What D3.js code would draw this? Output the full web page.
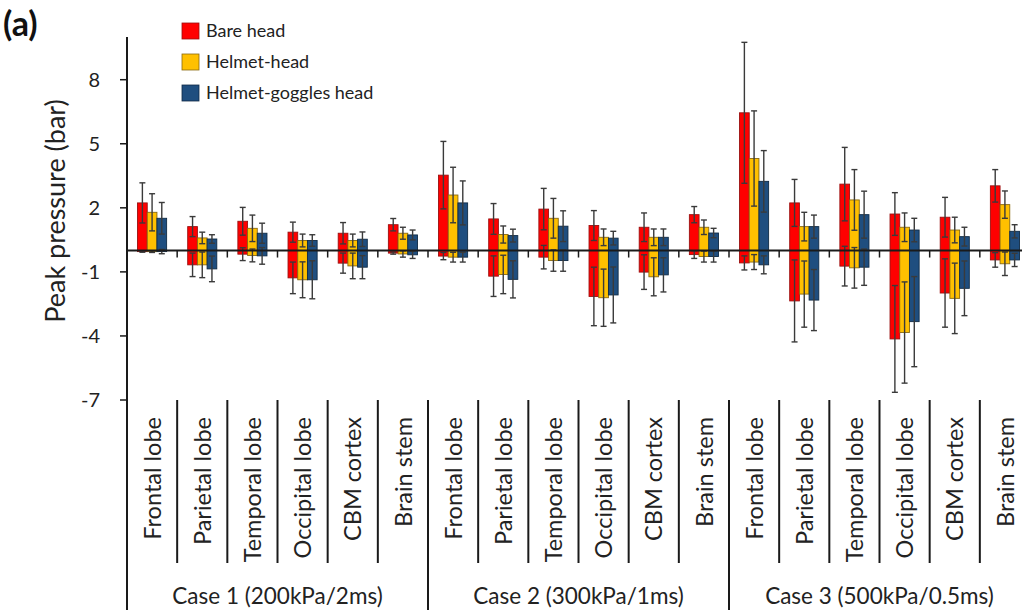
<!DOCTYPE html>
<html>
<head>
<meta charset="utf-8">
<script src="https://cdn.jsdelivr.net/npm/d3@7"></script>
<style>
  html, body { margin: 0; padding: 0; background: #fff; }
  svg { display: block; }
  text { font-family: Lato, "Noto Sans", sans-serif; fill: #222; }
</style>
</head>
<body>
<svg id="chart" width="1022" height="614"></svg>
<script>
// Brain regions, repeated for each loading case
const regions = ["Frontal lobe", "Parietal lobe", "Temporal lobe", "Occipital lobe", "CBM cortex", "Brain stem"];
const cases = ["Case 1 (200kPa/2ms)", "Case 2 (300kPa/1ms)", "Case 3 (500kPa/0.5ms)"];
const seriesNames = ["Bare head", "Helmet-head", "Helmet-goggles head"];
const seriesColors = ["#ff0000", "#ffc000", "#1f4e7f"];
const seriesStrokes = ["#9a1010", "#8a6a10", "#0f2a45"];
const yTicks = [8, 5, 2, -1, -4, -7];

// Peak positive / negative pressure (bar) and their standard deviations,
// 18 values each: Case 1 regions, then Case 2, then Case 3
const bareMax     = [2.23, 1.12, 1.37, 0.86, 0.81, 1.21,  3.53, 1.48, 1.94, 1.17, 1.09, 1.68,  6.45, 2.23, 3.11, 1.71, 1.56, 3.03];
const bareMaxSd   = [0.94, 0.47, 0.65, 0.47, 0.50, 0.29,  1.58, 0.72, 0.97, 0.70, 0.67, 0.38,  3.30, 1.10, 1.72, 1.00, 0.93, 0.76];
const bareMin     = [-0.05, -0.67, -0.17, -1.28, -0.59, -0.12,  -0.26, -1.20, -0.31, -2.15, -1.01, -0.19,  -0.58, -2.36, -0.73, -4.14, -1.99, -0.44];
const bareMinSd   = [0.03, 0.55, 0.30, 0.74, 0.47, 0.05,  0.17, 0.95, 0.55, 1.37, 0.81, 0.18,  0.33, 1.92, 0.93, 2.50, 1.60, 0.34];

const helmetMax   = [1.79, 0.59, 1.04, 0.47, 0.47, 0.81,  2.60, 0.75, 1.51, 0.62, 0.62, 1.09,  4.31, 1.12, 2.37, 1.09, 0.96, 2.15];
const helmetMaxSd = [0.87, 0.27, 0.62, 0.30, 0.30, 0.28,  1.30, 0.40, 0.93, 0.39, 0.39, 0.34,  2.23, 0.67, 1.42, 0.67, 0.60, 0.64];
const helmetMin   = [-0.05, -0.67, -0.23, -1.37, -0.72, -0.16,  -0.31, -1.12, -0.47, -2.21, -1.23, -0.28,  -0.54, -2.04, -0.81, -3.84, -2.24, -0.62];
const helmetMinSd = [0.04, 0.60, 0.30, 0.84, 0.60, 0.15,  0.23, 0.90, 0.50, 1.34, 0.89, 0.26,  0.35, 1.55, 0.95, 2.37, 1.65, 0.55];

const gogglesMax   = [1.51, 0.54, 0.81, 0.47, 0.53, 0.73,  2.23, 0.70, 1.14, 0.58, 0.62, 0.82,  3.24, 1.12, 1.68, 0.96, 0.65, 0.90];
const gogglesMaxSd = [0.74, 0.20, 0.47, 0.27, 0.34, 0.23,  1.03, 0.30, 0.72, 0.32, 0.39, 0.22,  1.44, 0.54, 1.10, 0.55, 0.44, 0.31];
const gogglesMin   = [-0.05, -0.86, -0.25, -1.37, -0.78, -0.20,  -0.31, -1.35, -0.47, -2.08, -1.14, -0.28,  -0.67, -2.32, -0.78, -3.33, -1.77, -0.44];
const gogglesMinSd = [0.10, 0.60, 0.39, 0.89, 0.54, 0.17,  0.23, 0.87, 0.50, 1.31, 0.80, 0.26,  0.42, 1.43, 0.85, 2.11, 1.28, 0.31];

const seriesData = [
  { max: bareMax, maxSd: bareMaxSd, min: bareMin, minSd: bareMinSd },
  { max: helmetMax, maxSd: helmetMaxSd, min: helmetMin, minSd: helmetMinSd },
  { max: gogglesMax, maxSd: gogglesMaxSd, min: gogglesMin, minSd: gogglesMinSd }
];

const svg = d3.select("#chart");

const axisX = 127;
const plotRight = 1030;
const yTop = 37;
const yBottom = 400;

// Each category key is "case|region"
const keys = [];
cases.forEach((c, ci) => regions.forEach((r, ri) => keys.push(ci + "|" + ri)));

const x = d3.scaleBand().domain(keys).range([axisX, plotRight]).paddingInner(0.42).paddingOuter(0.21);
const xs = d3.scaleBand().domain(d3.range(seriesNames.length)).range([0, x.bandwidth()]);
const step = x.step();
const y = d3.scaleLinear().domain([-7, 10]).range([yBottom, yTop]);

const ink = "#1a1a1a";

// Y axis
svg.append("line")
  .attr("x1", axisX).attr("x2", axisX)
  .attr("y1", yTop).attr("y2", 610)
  .attr("stroke", ink).attr("stroke-width", 2);

const yAxis = svg.append("g");
yAxis.selectAll("line.tick").data(yTicks).join("line")
  .attr("x1", axisX - 7).attr("x2", axisX)
  .attr("y1", d => y(d)).attr("y2", d => y(d))
  .attr("stroke", ink).attr("stroke-width", 1.5);
yAxis.selectAll("text").data(yTicks).join("text")
  .attr("x", 100).attr("y", d => y(d))
  .attr("dy", "0.35em")
  .attr("text-anchor", "end")
  .style("font-size", "20px")
  .text(d => d);

// Y title
svg.append("text")
  .attr("transform", `translate(56, ${211}) rotate(-90)`)
  .attr("text-anchor", "middle")
  .attr("dy", "0.35em")
  .style("font-size", "27px")
  .text("Peak pressure (bar)");

// Panel label
svg.append("text")
  .attr("x", 3).attr("y", 36)
  .style("font-size", "34px").style("font-weight", "bold")
  .style("fill", "#111")
  .text("(a)");

// Bars: positive and negative peaks, both drawn from zero
const bars = svg.append("g");
seriesData.forEach((s, si) => {
  const g = bars.append("g");
  const items = keys.map((k, i) => ({ k, i }));
  ["max", "min"].forEach(field => {
    g.selectAll("rect." + field).data(items).join("rect")
      .attr("class", field)
      .attr("x", d => x(d.k) + xs(si))
      .attr("width", xs.bandwidth())
      .attr("y", d => Math.min(y(0), y(s[field][d.i])))
      .attr("height", d => Math.abs(y(s[field][d.i]) - y(0)))
      .attr("fill", seriesColors[si])
      .attr("stroke", seriesStrokes[si])
      .attr("stroke-width", 0.9);
  });
});

// Error bars
const errs = svg.append("g");
seriesData.forEach((s, si) => {
  const pts = [];
  keys.forEach((k, i) => {
    const cx = x(k) + xs(si) + xs.bandwidth() / 2;
    pts.push({ cx, v: s.max[i], sd: s.maxSd[i] });
    pts.push({ cx, v: s.min[i], sd: s.minSd[i] });
  });
  const eg = errs.append("g").attr("stroke", "#3a3a3a").attr("stroke-width", 1.4);
  eg.selectAll("line.v").data(pts).join("line")
    .attr("x1", d => d.cx).attr("x2", d => d.cx)
    .attr("y1", d => y(d.v + d.sd)).attr("y2", d => y(d.v - d.sd));
  eg.selectAll("line.t").data(pts).join("line")
    .attr("x1", d => d.cx - 3).attr("x2", d => d.cx + 3)
    .attr("y1", d => y(d.v + d.sd)).attr("y2", d => y(d.v + d.sd));
  eg.selectAll("line.b").data(pts).join("line")
    .attr("x1", d => d.cx - 3).attr("x2", d => d.cx + 3)
    .attr("y1", d => y(d.v - d.sd)).attr("y2", d => y(d.v - d.sd));
});

// Zero line with ticks at category boundaries
svg.append("line")
  .attr("x1", axisX).attr("x2", plotRight)
  .attr("y1", y(0)).attr("y2", y(0))
  .attr("stroke", ink).attr("stroke-width", 2);
const bounds = d3.range(1, keys.length).map(i => axisX + i * step);
svg.append("g").selectAll("line").data(bounds).join("line")
  .attr("x1", d => d).attr("x2", d => d)
  .attr("y1", y(0)).attr("y2", y(0) + 7)
  .attr("stroke", ink).attr("stroke-width", 1.5);

// Category separators below the plot
svg.append("g").selectAll("line").data(bounds).join("line")
  .attr("x1", d => d).attr("x2", d => d)
  .attr("y1", 400)
  .attr("y2", (d, i) => ((i + 1) % regions.length === 0 ? 610 : 563))
  .attr("stroke", ink).attr("stroke-width", 2);

// Region labels, rotated
svg.append("g").selectAll("text").data(keys).join("text")
  .attr("transform", d => `translate(${x(d) + x.bandwidth() / 2}, 417) rotate(-90)`)
  .attr("text-anchor", "end")
  .attr("dy", "0.37em")
  .style("font-size", "23.5px")
  .text(d => regions[+d.split("|")[1]]);

// Case labels
svg.append("g").selectAll("text").data(cases).join("text")
  .attr("x", (d, i) => axisX + (i + 0.5) * regions.length * step)
  .attr("y", 604)
  .attr("text-anchor", "middle")
  .style("font-size", "22.5px")
  .text(d => d);

// Legend
const legend = svg.append("g");
const rows = legend.selectAll("g").data(seriesNames).join("g")
  .attr("transform", (d, i) => `translate(182, ${23 + i * 31})`);
rows.append("rect")
  .attr("width", 17).attr("height", 16)
  .attr("fill", (d, i) => seriesColors[i])
  .attr("stroke", (d, i) => seriesStrokes[i])
  .attr("stroke-width", 0.8);
rows.append("text")
  .attr("x", 24).attr("y", 8).attr("dy", "0.36em")
  .style("font-size", "18px")
  .text(d => d);
</script>
</body>
</html>
